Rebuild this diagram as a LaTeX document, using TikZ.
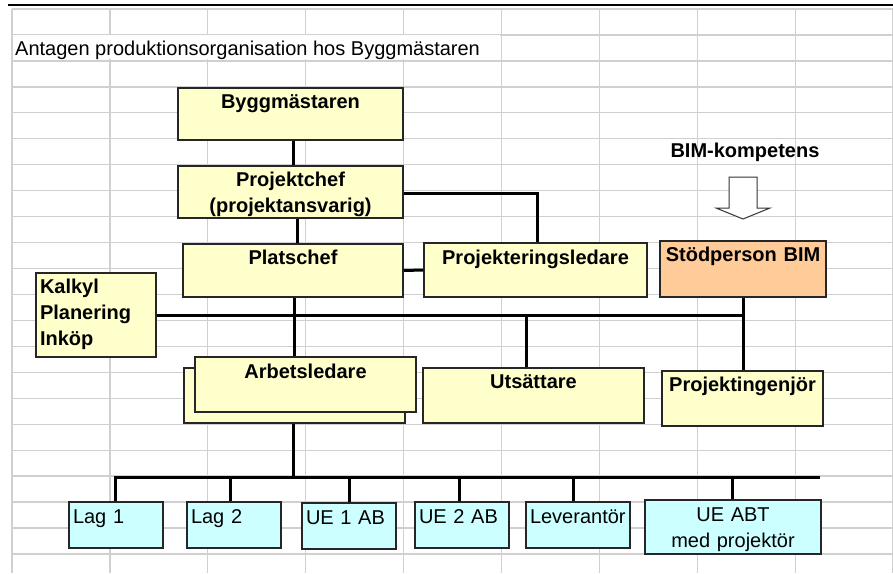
\documentclass[tikz,border=0pt]{standalone}
\usepackage{fontspec}
\setmainfont{Liberation Sans}
\usepackage{xcolor}
\usepackage{tikz}
\usetikzlibrary{calc}

\definecolor{boxyel}{HTML}{FFFFCC}
\definecolor{boxorg}{HTML}{FFCC99}
\definecolor{boxcyan}{HTML}{CCFFFF}
\definecolor{cellgray}{HTML}{D0D0D0}

\begin{document}
\begin{tikzpicture}[x=1pt, y=-1pt,
    every node/.style={font=\fontsize{20}{26}\selectfont},
    cell/.style={cellgray, line width=1.3pt},
    yel/.style={draw=black!85, line width=1.4pt, fill=boxyel, inner sep=0pt,
      align=center, font=\fontsize{20}{26}\selectfont\bfseries},
    org/.style={yel, fill=boxorg},
    cyn/.style={draw=black!85, line width=1.4pt, fill=boxcyan, inner xsep=4pt,
      inner ysep=0pt, align=left, text height=21pt, text depth=25pt},
    conn/.style={line width=3pt}]

  \useasboundingbox (0,0) rectangle (893,573);

  % Sheet cells
  \fill[white] (0,0) rectangle (893,573);
  \foreach \r in {0,...,21}
    \draw[cell] (12,{9+25.95*\r}) -- (893,{9+25.95*\r});
  \foreach \c in {0,...,9}
    \draw[cell] ({12+97.9*\c},9) -- ({12+97.9*\c},573);
  \draw[line width=2pt] (8,5) -- (893,5);

  % Title row
  \fill[white] (13,35.2) rectangle (500,59.2);
  \node[anchor=base west, inner sep=0pt] (title) at (15,55.5)
    {Antagen produktionsorganisation hos Byggmästaren};

  % Management
  \node[yel, text width=225pt, text height=20.5pt, text depth=31.5pt] (bygg)
    at (290.5,114) {Byggmästaren};
  \node[yel, text width=225pt, text height=20pt, text depth=32pt] (pchef)
    at (290.5,192) {Projektchef\\(projektansvarig)};
  \node[yel, text width=220pt, text height=20.5pt, text depth=32.5pt] (plats)
    at (293,270.5) {Platschef};
  \node[yel, text width=223pt, text height=21pt, text depth=33pt] (prol)
    at (535.5,270) {Projekteringsledare};
  \node[org, text width=166pt, text height=20pt, text depth=36pt] (stod)
    at (743,269) {Stödperson BIM};
  \node[yel, align=left, inner xsep=4pt, text width=112pt, text height=20pt,
    text depth=64pt] (kalkyl) at (96,315) {Kalkyl\\Planering\\Inköp};

  % BIM input
  \node[anchor=base, inner sep=0pt, font=\fontsize{20}{26}\selectfont\bfseries]
    (bimtxt) at (745,157) {BIM-kompetens};
  \draw[black!80, line width=1pt, fill=white] (729,177) -- (757,177) -- (757,208)
    -- (770,208) -- (743,219) -- (716,208) -- (729,208) -- cycle;

  % Site staff
  \node[yel, text width=221pt, text height=20.5pt, text depth=34.5pt] (arbback)
    at (294.5,395.5) {};
  \node[yel, text width=221pt, text height=21pt, text depth=34pt] (arb)
    at (305.5,384.5) {Arbetsledare};
  \node[yel, text width=221pt, text height=20pt, text depth=35pt] (uts)
    at (533.5,395.5) {Utsättare};
  \node[yel, text width=161pt, text height=20pt, text depth=35pt] (ping)
    at (742.5,398.5) {Projektingenjör};

  % Teams and subcontractors
  \node[cyn, text width=86pt] (lag1) at (116,525) {Lag 1};
  \node[cyn, text width=86pt] (lag2) at (234,525) {Lag 2};
  \node[cyn, text width=86pt] (ue1) at (349,526) {UE 1 AB};
  \node[cyn, text width=86pt] (ue2) at (462,525) {UE 2 AB};
  \node[cyn, text width=96pt] (lev) at (578,525) {Leverantör};
  \node[cyn, align=center, text width=168pt, text depth=33pt] (ueabt)
    at (733,527) {UE ABT\\med projektör};

  % Lines
  \draw[conn] ([xshift=2.5pt]bygg.south) -- ([xshift=2.5pt]bygg.south |- pchef.north);
  \draw[conn] ([xshift=6.5pt]pchef.south) -- ([xshift=6.5pt]pchef.south |- plats.north);
  \draw[conn] ([yshift=-1pt]pchef.east) -| ([xshift=1.5pt]prol.north);
  \draw[conn] (plats.east) -- (prol.west);
  \draw[conn] ([xshift=1pt]plats.south) -- ([xshift=1pt]plats.south |- arb.north);
  \draw[conn] (kalkyl.east) -- (kalkyl.east -| stod.south);
  \draw[conn] (stod.south) -- (stod.south |- ping.north);
  \draw[conn] ([xshift=-7.5pt]uts.north) -- ([xshift=-7.5pt]uts.north |- kalkyl.east);

  \coordinate (busR) at (820,477);
  \draw[conn] ([xshift=-1.5pt]arbback.south) -- ([xshift=-1.5pt]arbback.south |- busR);
  \draw[conn] ([xshift=-1pt]lag1.north) |- (busR);
  \foreach \n/\s in {lag2/-4,ue1/0,ue2/-3,lev/-5,ueabt/-1}
    \draw[conn] ([xshift=\s pt]\n.north) -- ([xshift=\s pt]\n.north |- busR);

\end{tikzpicture}
\end{document}
